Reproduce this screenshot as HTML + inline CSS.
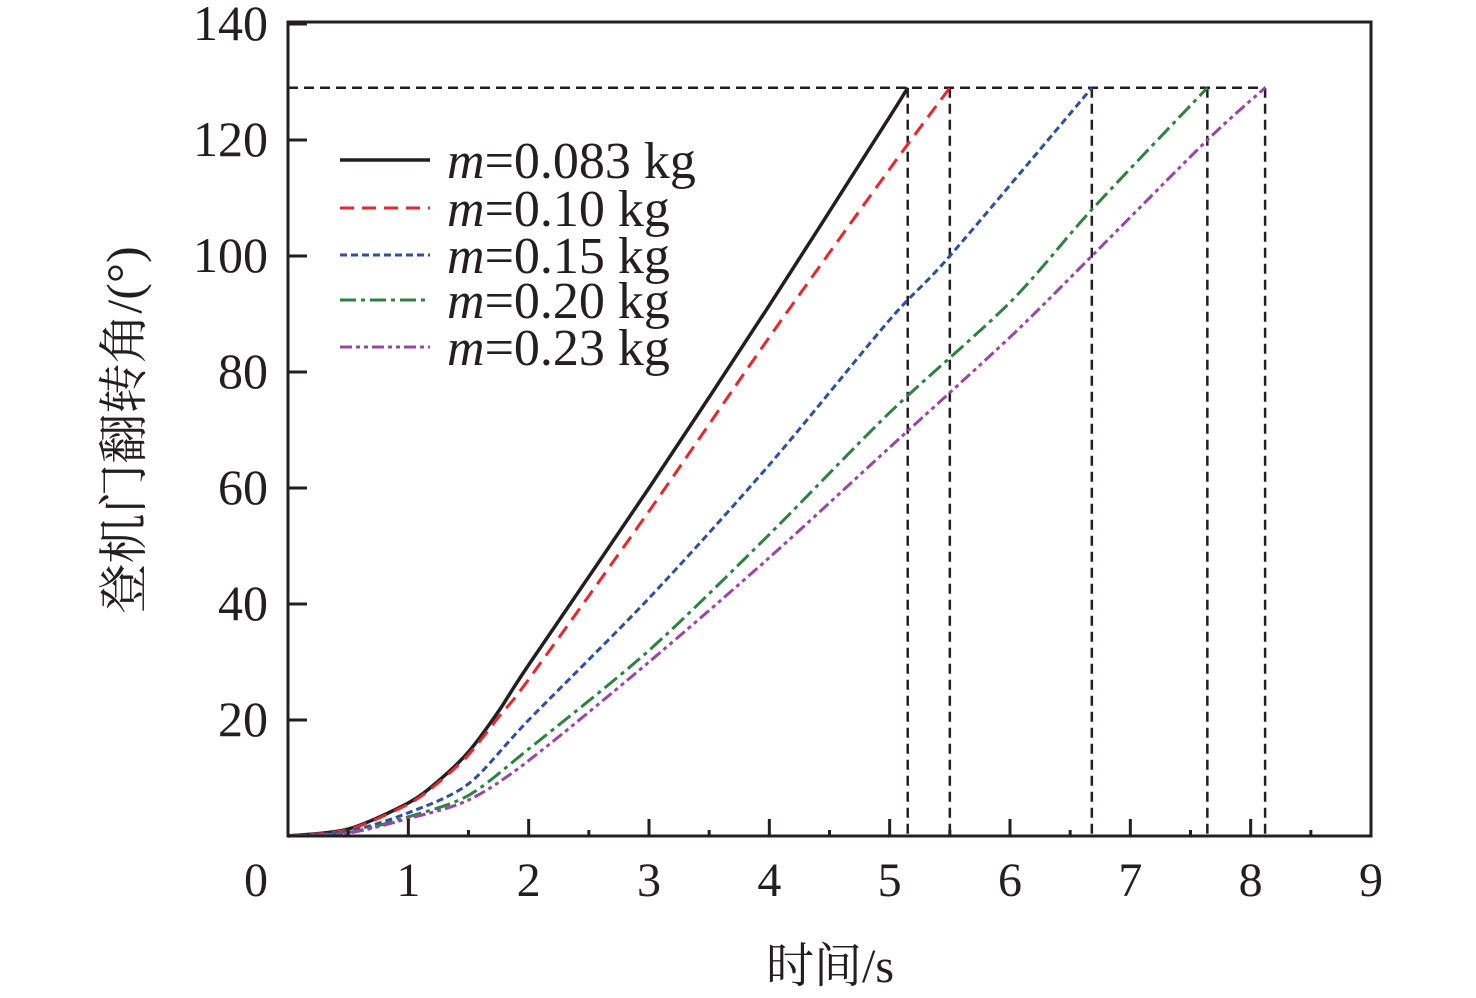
<!DOCTYPE html>
<html><head><meta charset="utf-8"><style>
html,body{margin:0;padding:0;background:#fff;}
svg{display:block;}
text{font-family:"Liberation Serif","Noto Serif CJK SC",serif;fill:#231f20;}
</style></head><body>
<svg id="chart" width="1476" height="998" viewBox="0 0 1476 998" xmlns="http://www.w3.org/2000/svg">
<g id="grid"></g>
<g id="marks"></g>
<g id="axes"></g>
<g id="legend"></g>
</svg>
<script>
const xTicks = [0,1,2,3,4,5,6,7,8,9];
const yTicks = [20,40,60,80,100,120,140];
const seriesNames = ["m=0.083 kg","m=0.10 kg","m=0.15 kg","m=0.20 kg","m=0.23 kg"];
const massLabels = ["0.083","0.10","0.15","0.20","0.23"];
const tA = [0,0.5,1,1.25,1.5,1.75,2,3,4,5,5.15];
const vA = [0,1.2,5.7,9.5,14.5,21.5,29.5,60,91.5,124,129];
const tB = [0,0.5,1,1.25,1.5,1.75,2,3,4,5,5.5];
const vB = [0,1.1,5.5,9.2,14,20.5,27,56,86,115,129];
const tC = [0,0.5,1,1.5,2,3,4,5,5.5,6.68];
const vC = [0,0.8,4,9,20,41,64,89,100,129];
const tD = [0,0.5,1,1.5,2,3,4,5,6,6.68,7.64];
const vD = [0,0.6,3.3,7,15,32,52,73,92,108,129];
const tE = [0,0.5,1,1.5,2,3,4,5,6,6.68,7.64,8.12];
const vE = [0,0.5,3,6.2,13,30,48,67,86,100,120,129];
const endTimes = [5.15,5.5,6.68,7.64,8.12];
const finalAngle = 129;

const X0=288,X1=1371,Y0=836,Y1=24;
const sx=v=>X0+(X1-X0)*v/9;
const sy=v=>Y0-(Y0-Y1)*v/140;
const NS="http://www.w3.org/2000/svg";
function mk(tag,attrs,parent){const e=document.createElementNS(NS,tag);for(const k in attrs)e.setAttribute(k,attrs[k]);parent.appendChild(e);return e;}
const marks=document.getElementById('marks'),axes=document.getElementById('axes'),legend=document.getElementById('legend'),grid=document.getElementById('grid');

const hl=mk('line',{x1:sx(0),x2:sx(endTimes[4]),y1:sy(finalAngle),y2:sy(finalAngle),stroke:'#231f20','stroke-width':2.5,'stroke-dasharray':'10 6'},grid);


endTimes.forEach((t,i)=>{
  const l=mk('line',{x1:sx(t),x2:sx(t),y1:sy(finalAngle),y2:sy(0),stroke:'#231f20','stroke-width':2.5,'stroke-dasharray':'10 6'},grid);
  
  
});

const styles=[
 {c:'#231f20',d:'',w:3.5},
 {c:'#e8262b',d:'14 8',w:3},
 {c:'#2e4fa3',d:'7 4',w:3},
 {c:'#2e8140',d:'16 5 4 5',w:3},
 {c:'#9b45a8',d:'12 4 4 4 4 4',w:3}
];
const ts=[tA,tB,tC,tD,tE], vs=[vA,vB,vC,vD,vE];
function smoothPath(xs,ys){
  const p=xs.map((x,i)=>[sx(x),sy(ys[i])]);
  let d='M'+p[0][0]+','+p[0][1];
  for(let i=0;i<p.length-1;i++){
    const p0=p[i-1]||p[i],p1=p[i],p2=p[i+1],p3=p[i+2]||p2;
    const k=7;
    const c1=[p1[0]+(p2[0]-p0[0])/k,p1[1]+(p2[1]-p0[1])/k];
    const c2=[p2[0]-(p3[0]-p1[0])/k,p2[1]-(p3[1]-p1[1])/k];
    d+=' C'+c1+' '+c2+' '+p2;
  }
  return d;
}
ts.forEach((t,i)=>{
  const s=styles[i];
  const p=mk('path',{d:smoothPath(t,vs[i]),fill:'none',stroke:s.c,'stroke-width':s.w,'stroke-dasharray':s.d},marks);
  
  
});

const fr=mk('rect',{x:X0,y:22,width:X1-X0,height:Y0-22,fill:'none',stroke:'#231f20','stroke-width':3},axes);


xTicks.forEach(v=>{
  const l=mk('line',{x1:sx(v),x2:sx(v),y1:Y0,y2:Y0-17,stroke:'#231f20','stroke-width':3},axes);
  
  
  if(v<9){const m=mk('line',{x1:sx(v+0.5),x2:sx(v+0.5),y1:Y0,y2:Y0-6,stroke:'#231f20','stroke-width':3},axes);
  
  }
  const t=mk('text',{x:sx(v)+(v===0?-32:0),y:896,'font-size':48,'text-anchor':'middle'},axes);
  t.textContent=v;
  
  
});
yTicks.forEach(v=>{
  const l=mk('line',{x1:X0,x2:X0+19,y1:sy(v),y2:sy(v),stroke:'#231f20','stroke-width':3},axes);
  
  
  const t=mk('text',{x:268,y:sy(v)+16,'font-size':50,'text-anchor':'end'},axes);
  t.textContent=v;
  
  
});
const xt=mk('text',{x:830,y:982,'font-size':48,'text-anchor':'middle'},axes);
xt.textContent='时间/s';


const yt=mk('text',{x:0,y:0,'font-size':50,'text-anchor':'middle',transform:'translate(141,430) rotate(-90)'},axes);
yt.textContent='登机门翻转角/(°)';



const rows=[160,208,255,300,347];
seriesNames.forEach((n,i)=>{
  const s=styles[i];
  const g=mk('g',{},legend);
  
  
  mk('line',{x1:340,x2:430,y1:rows[i],y2:rows[i],stroke:s.c,'stroke-width':s.w,'stroke-dasharray':s.d},g);
  const t=mk('text',{x:447,y:rows[i]+18,'font-size':52},g);
  const ts1=mk('tspan',{'font-style':'italic'},t); ts1.textContent='m';
  const ts2=mk('tspan',{},t); ts2.textContent='='+massLabels[i]+' kg';
});
</script>
</body></html>
